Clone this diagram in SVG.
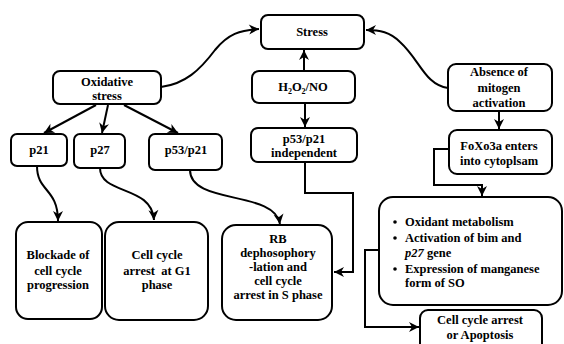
<svg xmlns="http://www.w3.org/2000/svg" width="564" height="344" viewBox="0 0 564 344">
<style>
.box{fill:#fff;stroke:#000;stroke-width:2}
.t{font-family:"Liberation Serif","Times New Roman",serif;font-weight:bold;font-size:12.5px;fill:#000;text-anchor:middle}
.l{text-anchor:start}
.c{fill:none;stroke:#000;stroke-width:2}
</style>
<defs>
<marker id="ah" markerUnits="userSpaceOnUse" markerWidth="12" markerHeight="12" refX="10" refY="5" orient="auto" overflow="visible">
<path d="M0,0 L10,5 L0,10 L3,5 Z" fill="#000"/>
</marker>
</defs>
<rect width="564" height="344" fill="#fff"/>
<g id="connectors">
<path class="c" marker-end="url(#ah)" d="M161,87 C185,84 200,70 215,50 C228,34 240,30 259,29"/>
<path class="c" marker-end="url(#ah)" d="M304,71 L304,50"/>
<path class="c" marker-end="url(#ah)" d="M305,103 L305,127"/>
<path class="c" marker-end="url(#ah)" d="M448,88 C425,85 420,60 400,42 C390,32 380,30 366,30"/>
<path class="c" marker-end="url(#ah)" d="M499,111 L499,129"/>
<path class="c" marker-end="url(#ah)" d="M449,149 L434,149 L434,185 L482,185 L482,196"/>
<path class="c" marker-end="url(#ah)" d="M305,162 L305,193 L353,193 L353,272 L334,272"/>
<path class="c" marker-end="url(#ah)" d="M379,250 L365,250 L365,327 L419,327"/>
<path class="c" marker-end="url(#ah)" d="M96,105 L44,133"/>
<path class="c" marker-end="url(#ah)" d="M108,105 L102,133"/>
<path class="c" marker-end="url(#ah)" d="M124,105 L178,133"/>
<path class="c" marker-end="url(#ah)" d="M37,166 C37,192 58,188 58,221"/>
<path class="c" marker-end="url(#ah)" d="M100,168 C100,195 152,185 154,220"/>
<path class="c" marker-end="url(#ah)" d="M190,170 C190,205 275,190 280,224"/>
</g>
<g id="stress"><rect class="box" x="261" y="15" width="103" height="34" rx="7"/><text class="t" x="312" y="36">Stress</text></g>
<g id="oxidative"><rect class="box" x="53" y="71" width="108" height="33" rx="7"/><text class="t" x="107" y="86">Oxidative</text><text class="t" x="107" y="100">stress</text></g>
<g id="h2o2"><rect class="box" x="252" y="71" width="103" height="32" rx="7"/><text class="t" x="303" y="91">H<tspan font-size="8" dy="3">2</tspan><tspan dy="-3">O</tspan><tspan font-size="8" dy="3">2</tspan><tspan dy="-3">/NO</tspan></text></g>
<g id="p53indep"><rect class="box" x="251" y="128" width="106" height="34" rx="7"/><text class="t" x="304" y="143">p53/p21</text><text class="t" x="304" y="157">independent</text></g>
<g id="absence"><rect class="box" x="448" y="64" width="104" height="47" rx="8"/><text class="t" x="499" y="76">Absence of</text><text class="t" x="499" y="92">mitogen</text><text class="t" x="499" y="107">activation</text></g>
<g id="foxo"><rect class="box" x="449" y="130" width="103" height="44" rx="8"/><text class="t" x="499" y="150">FoXo3a enters</text><text class="t" x="499" y="165">into cytoplsam</text></g>
<g id="p21"><rect class="box" x="11" y="134" width="56" height="32" rx="6"/><text class="t" x="39" y="154">p21</text></g>
<g id="p27"><rect class="box" x="74" y="134" width="51" height="34" rx="6"/><text class="t" x="100" y="154">p27</text></g>
<g id="p53p21"><rect class="box" x="149" y="134" width="73" height="36" rx="6"/><text class="t" x="186" y="154">p53/p21</text></g>
<g id="blockade"><rect class="box" x="16" y="222" width="86" height="97" rx="12"/><text class="t" x="58" y="259">Blockade of</text><text class="t" x="58" y="275">cell cycle</text><text class="t" x="58" y="289">progression</text></g>
<g id="g1"><rect class="box" x="105" y="222" width="103" height="98" rx="14"/><text class="t" x="157" y="259">Cell cycle</text><text class="t" x="157" y="275" xml:space="preserve">arrest  at G1</text><text class="t" x="157" y="289">phase</text></g>
<g id="rb"><rect class="box" x="222" y="225" width="110" height="95" rx="14"/><text class="t" x="278" y="243">RB</text><text class="t" x="278" y="257">dephosophory</text><text class="t" x="278" y="271">-lation and</text><text class="t" x="278" y="285">cell cycle</text><text class="t" x="278" y="299">arrest in S phase</text></g>
<g id="bullets"><rect class="box" x="379" y="197" width="183" height="108" rx="14"/>
<circle cx="395" cy="222" r="1.8"/><circle cx="395" cy="238" r="1.8"/><circle cx="395" cy="269" r="1.8"/>
<text class="t l" x="405" y="226">Oxidant metabolism</text>
<text class="t l" x="405" y="242">Activation of bim and</text>
<text class="t l" x="405" y="257"><tspan font-style="italic">p27</tspan> gene</text>
<text class="t l" x="405" y="273">Expression of manganese</text>
<text class="t l" x="405" y="287">form of SO</text></g>
<g id="apoptosis"><rect class="box" x="420" y="310" width="122" height="42" rx="8"/><text class="t" x="480" y="324">Cell cycle arrest</text><text class="t" x="480" y="339">or Apoptosis</text></g>
</svg>
